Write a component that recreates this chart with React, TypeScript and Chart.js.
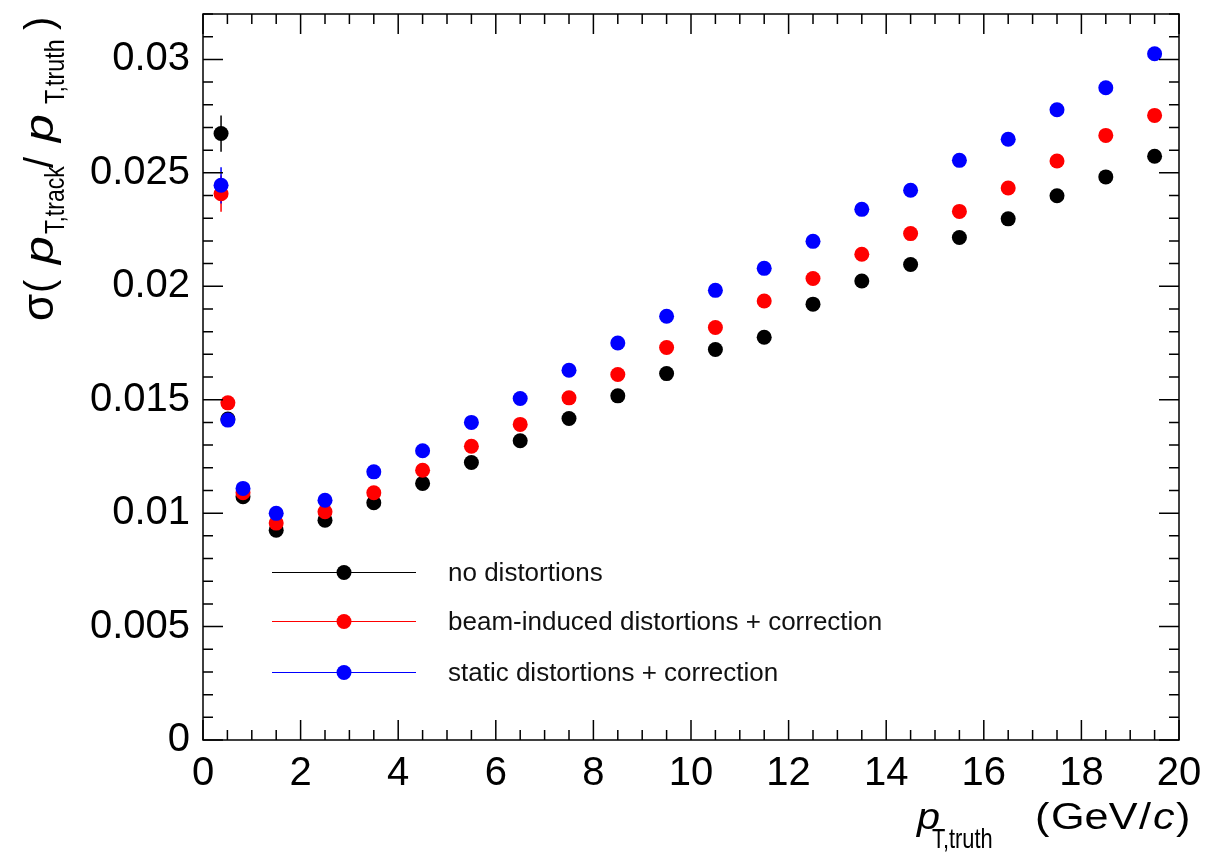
import React, { useEffect, useRef } from "react";
import { Chart, registerables } from "chart.js";

Chart.register(...registerables);

const FONT = "'Liberation Sans', Arial, Helvetica, sans-serif";

// ---- data ----
const ptTruth = [0.37, 0.51, 0.82, 1.5, 2.5, 3.5, 4.5, 5.5, 6.5, 7.5, 8.5, 9.5, 10.5, 11.5, 12.5, 13.5, 14.5, 15.5, 16.5, 17.5, 18.5, 19.5];
const noDistortions = [0.02673, 0.01415, 0.01072, 0.00925, 0.00969, 0.01046, 0.01131, 0.01223, 0.01319, 0.01417, 0.01517, 0.01615, 0.01721, 0.01775, 0.01921, 0.02023, 0.02096, 0.02215, 0.02297, 0.02399, 0.02482, 0.02573];
const beamInduced = [0.02408, 0.01486, 0.0109, 0.00956, 0.01006, 0.0109, 0.01189, 0.01295, 0.01391, 0.01508, 0.01611, 0.0173, 0.01818, 0.01935, 0.02034, 0.02141, 0.02232, 0.0233, 0.02433, 0.02552, 0.02665, 0.02753];
const staticDist = [0.02445, 0.0141, 0.01109, 0.00999, 0.01057, 0.01182, 0.01275, 0.014, 0.01505, 0.0163, 0.0175, 0.01868, 0.01982, 0.02079, 0.02198, 0.02339, 0.02423, 0.02555, 0.02648, 0.02778, 0.02875, 0.03025];
const errNoDistortions = [0.0008, 0.0003, 0.0002, 0.0001, 0.0001, 0.0001, 0.0001, 0.0001, 0.0001, 0.0001, 0.0001, 0.0001, 0.0001, 0.0001, 0.0001, 0.0001, 0.0001, 0.0001, 0.0001, 0.0001, 0.0001, 0.0001];
const errBeamInduced = [0.0008, 0.0003, 0.0002, 0.0001, 0.0001, 0.0001, 0.0001, 0.0001, 0.0001, 0.0001, 0.0001, 0.0001, 0.0001, 0.0001, 0.0001, 0.0001, 0.0001, 0.0001, 0.0001, 0.0001, 0.0001, 0.0001];
const errStatic = [0.0008, 0.0003, 0.0002, 0.0001, 0.0001, 0.0001, 0.0001, 0.0001, 0.0001, 0.0001, 0.0001, 0.0001, 0.0001, 0.0001, 0.0001, 0.0001, 0.0001, 0.0001, 0.0001, 0.0001, 0.0001, 0.0001];

const seriesLabels = ["no distortions", "beam-induced distortions + correction", "static distortions + correction"];
const seriesColors = ["#000000", "#ff0000", "#0000ff"];

const xTickValues = [0, 2, 4, 6, 8, 10, 12, 14, 16, 18, 20];
const xTickLabels = ["0", "2", "4", "6", "8", "10", "12", "14", "16", "18", "20"];
const yTickValues = [0, 0.005, 0.01, 0.015, 0.02, 0.025, 0.03];
const yTickLabels = ["0", "0.005", "0.01", "0.015", "0.02", "0.025", "0.03"];

type Piece = { text: string; font: string; at: number; off: number; sx?: number };

function drawPieces(ctx: CanvasRenderingContext2D, pieces: Piece[]) {
  for (const p of pieces) {
    ctx.save();
    ctx.font = p.font;
    ctx.translate(p.at, p.off);
    ctx.scale(p.sx ?? 1, 1);
    ctx.fillText(p.text, 0, 0);
    ctx.restore();
  }
}

const rootStyle = {
  id: "rootStyle",
  beforeDatasetsDraw(chart: any) {
    const ctx: CanvasRenderingContext2D = chart.ctx;
    const xs = chart.scales.x;
    const ys = chart.scales.y;
    const errs = [errNoDistortions, errBeamInduced, errStatic];
    ctx.save();
    ctx.lineWidth = 1.5;
    chart.data.datasets.forEach((ds: any, i: number) => {
      ctx.strokeStyle = seriesColors[i];
      ds.data.forEach((pt: any, j: number) => {
        const px = xs.getPixelForValue(pt.x);
        ctx.beginPath();
        ctx.moveTo(px, ys.getPixelForValue(pt.y - errs[i][j]));
        ctx.lineTo(px, ys.getPixelForValue(pt.y + errs[i][j]));
        ctx.stroke();
      });
    });
    ctx.restore();
  },
  afterDraw(chart: any) {
    const ctx: CanvasRenderingContext2D = chart.ctx;
    const a = chart.chartArea;
    const xs = chart.scales.x;
    const ys = chart.scales.y;
    ctx.save();
    ctx.strokeStyle = "#000";
    ctx.lineWidth = 1.5;
    ctx.strokeRect(a.left, a.top, a.right - a.left, a.bottom - a.top);
    // x ticks (bottom and top, inward)
    ctx.beginPath();
    for (let k = 0; k <= 40; k++) {
      const v = k * 0.5;
      const len = k % 4 === 0 ? 20 : 10;
      const px = xs.getPixelForValue(v);
      ctx.moveTo(px, a.bottom);
      ctx.lineTo(px, a.bottom - len);
      ctx.moveTo(px, a.top);
      ctx.lineTo(px, a.top + len);
    }
    // y ticks (left and right, inward)
    for (let k = 0; k <= 32; k++) {
      const v = k * 0.001;
      const len = k % 5 === 0 ? 20 : 10;
      const py = ys.getPixelForValue(v);
      ctx.moveTo(a.left, py);
      ctx.lineTo(a.left + len, py);
      ctx.moveTo(a.right, py);
      ctx.lineTo(a.right - len, py);
    }
    ctx.stroke();

    // legend
    const rows = [572, 621, 672];
    chart.data.datasets.forEach((ds: any, i: number) => {
      const y = rows[i] + 0.5;
      ctx.strokeStyle = seriesColors[i];
      ctx.lineWidth = 1;
      ctx.beginPath();
      ctx.moveTo(a.left + 69, y);
      ctx.lineTo(a.left + 213, y);
      ctx.stroke();
      ctx.fillStyle = seriesColors[i];
      ctx.beginPath();
      ctx.arc(a.left + 141, y, 7.5, 0, Math.PI * 2);
      ctx.fill();
      ctx.fillStyle = "#111";
      ctx.font = `26px ${FONT}`;
      ctx.textAlign = "left";
      ctx.textBaseline = "middle";
      ctx.fillText(ds.label, a.left + 245, y + 1);
    });

    // axis titles
    ctx.fillStyle = "#000";
    ctx.textAlign = "left";
    ctx.textBaseline = "alphabetic";
    const main = `40px ${FONT}`;
    const ital = `italic 40px ${FONT}`;
    const sub = `28px ${FONT}`;
    const xmain = `36px ${FONT}`;
    const xital = `italic 36px ${FONT}`;
    // x title
    drawPieces(ctx, [
      { text: "p", font: xital, at: 917, off: 829, sx: 1.15 },
      { text: "T,truth", font: sub, at: 932, off: 848, sx: 0.78 },
      { text: "(", font: xmain, at: 1035, off: 829, sx: 1.2 },
      { text: "GeV", font: xmain, at: 1051, off: 829, sx: 1.2 },
      { text: "/", font: xmain, at: 1139, off: 829, sx: 1.2 },
      { text: "c", font: xital, at: 1153, off: 829, sx: 1.2 },
      { text: ")", font: xmain, at: 1176, off: 829, sx: 1.2 },
    ]);
    // y title (rotated)
    ctx.save();
    ctx.translate(53, 320);
    ctx.rotate(-Math.PI / 2);
    drawPieces(ctx, [
      { text: "σ", font: `44px ${FONT}`, at: -1, off: 0 },
      { text: "(", font: main, at: 27, off: 0 },
      { text: "p", font: ital, at: 56, off: 0, sx: 1.25 },
      { text: "T,track", font: sub, at: 86, off: 11, sx: 0.82 },
      { text: "/", font: main, at: 152, off: 0 },
      { text: "p", font: ital, at: 178, off: 0, sx: 1.25 },
      { text: "T,truth", font: sub, at: 216, off: 11, sx: 0.83 },
      { text: ")", font: main, at: 290, off: 0 },
    ]);
    ctx.restore();
    ctx.restore();
  },
};

function makePoints(vals: number[]) {
  return ptTruth.map((x, i) => ({ x, y: vals[i] }));
}

export default function App() {
  const ref = useRef<HTMLCanvasElement | null>(null);
  useEffect(() => {
    if (!ref.current) return;
    const seriesValues = [noDistortions, beamInduced, staticDist];
    const chart = new Chart(ref.current, {
      type: "scatter",
      data: {
        datasets: seriesValues.map((vals, i) => ({
          label: seriesLabels[i],
          data: makePoints(vals),
          backgroundColor: seriesColors[i],
          borderColor: seriesColors[i],
          pointBackgroundColor: seriesColors[i],
          pointBorderWidth: 0,
          pointRadius: 7.5,
          pointHoverRadius: 7.5,
          showLine: false,
          order: 3 - i,
        })),
      },
      options: {
        responsive: false,
        maintainAspectRatio: false,
        animation: false,
        events: [],
        layout: { padding: { top: 14, right: 27, left: 0, bottom: 0 } },
        plugins: { legend: { display: false }, tooltip: { enabled: false } },
        scales: {
          x: {
            type: "linear",
            min: 0,
            max: 20,
            grid: { display: false, drawTicks: false },
            border: { display: false },
            afterFit: (s: any) => {
              s.height = 113;
              s.paddingLeft = 0;
              s.paddingRight = 0;
            },
            afterBuildTicks: (s: any) => { s.ticks = xTickValues.map((v) => ({ value: v })); },
            ticks: {
              autoSkip: false,
              maxRotation: 0,
              padding: 10,
              color: "#000",
              font: { family: FONT, size: 40 },
              callback: (_v: any, i: number) => xTickLabels[i],
            },
          },
          y: {
            type: "linear",
            min: 0,
            max: 0.032,
            grid: { display: false, drawTicks: false },
            border: { display: false },
            afterFit: (s: any) => {
              s.width = 203;
              s.paddingTop = 0;
              s.paddingBottom = 0;
            },
            afterBuildTicks: (s: any) => { s.ticks = yTickValues.map((v) => ({ value: v })); },
            ticks: {
              autoSkip: false,
              padding: 13,
              color: "#000",
              font: { family: FONT, size: 40 },
              callback: (_v: any, i: number) => yTickLabels[i],
            },
          },
        },
      },
      plugins: [rootStyle],
    } as any);
    return () => chart.destroy();
  }, []);
  return (
    <div style={{ position: "absolute", left: 0, top: 0, width: 1206, height: 853, background: "#fff" }}>
      <canvas ref={ref} width={1206} height={853} style={{ display: "block" }} />
    </div>
  );
}
